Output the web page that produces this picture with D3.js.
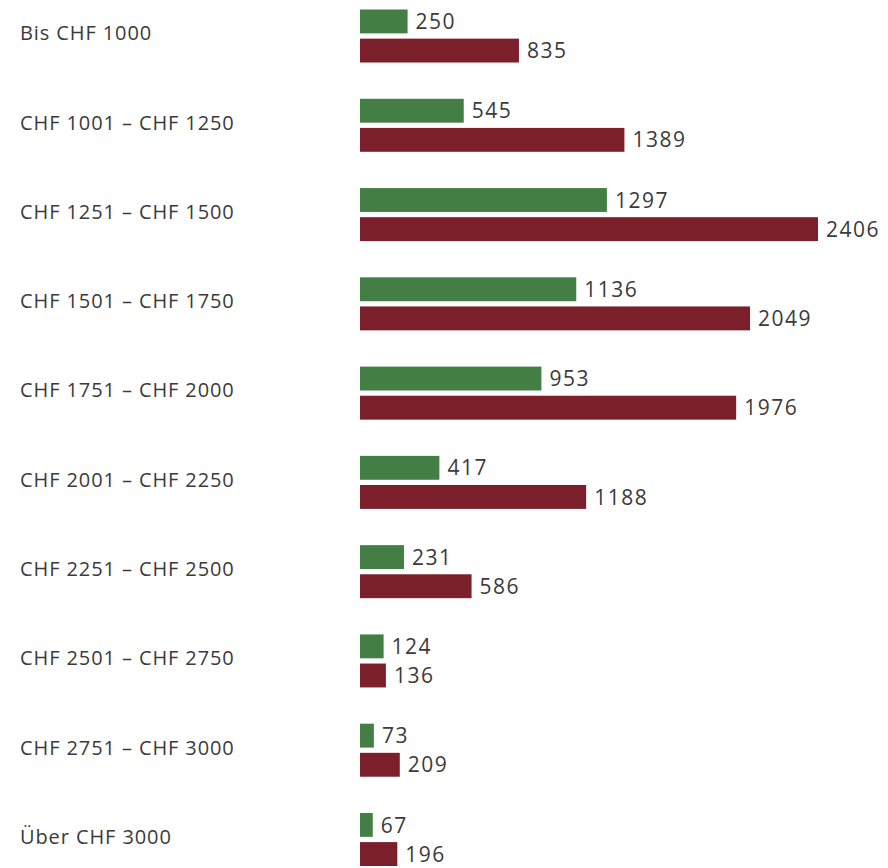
<!DOCTYPE html>
<html>
<head>
<meta charset="utf-8">
<script src="https://cdn.jsdelivr.net/npm/d3@7"></script>
<style>
  html, body { margin: 0; padding: 0; background: #fff; }
  #chart text { font-family: "Open Sans", "Noto Sans", sans-serif; fill: #3b3b3b; }
</style>
</head>
<body>
<div id="chart"></div>
<script>
const width = 888;
const height = 868;

const categories = [
    "Bis CHF 1000",
    "CHF 1001 – CHF 1250",
    "CHF 1251 – CHF 1500",
    "CHF 1501 – CHF 1750",
    "CHF 1751 – CHF 2000",
    "CHF 2001 – CHF 2250",
    "CHF 2251 – CHF 2500",
    "CHF 2501 – CHF 2750",
    "CHF 2751 – CHF 3000",
    "Über CHF 3000"
];
const seriesGreen = [250, 545, 1297, 1136, 953, 417, 231, 124, 73, 67];
const seriesRed = [835, 1389, 2406, 2049, 1976, 1188, 586, 136, 209, 196];
const seriesKeys = ["green", "red"];
const colors = { green: "#437f44", red: "#7b1f2b" };

const rows = categories.map((c, i) => ({
    category: c,
    values: [
        { key: "green", value: seriesGreen[i] },
        { key: "red", value: seriesRed[i] }
    ]
}));

const svg = d3.select("#chart")
    .append("svg")
    .attr("width", width)
    .attr("height", height);

svg.append("rect")
    .attr("width", width)
    .attr("height", height)
    .attr("fill", "#fff");

// one band per category, two bars inside
const y = d3.scaleBand()
    .domain(categories)
    .range([9.5, 866])
    .paddingInner(0.406)
    .paddingOuter(0);

const yInner = d3.scaleBand()
    .domain(seriesKeys)
    .range([0, y.bandwidth()])
    .paddingInner(0.18);

const x = d3.scaleLinear()
    .domain([0, 2406])
    .range([360, 818]);

const group = svg.selectAll("g.row")
    .data(rows)
    .join("g")
    .attr("class", "row")
    .attr("transform", d => `translate(0,${y(d.category)})`);

group.append("text")
    .attr("x", 20)
    .attr("y", y.bandwidth() / 2 - 1)
    .attr("dominant-baseline", "middle")
    .style("font-size", "20px")
    .style("letter-spacing", "0.9px")
    .text(d => d.category);

group.selectAll("rect")
    .data(d => d.values)
    .join("rect")
    .attr("x", x(0))
    .attr("y", d => yInner(d.key))
    .attr("width", d => x(d.value) - x(0))
    .attr("height", yInner.bandwidth())
    .attr("fill", d => colors[d.key]);

group.selectAll("text.value")
    .data(d => d.values)
    .join("text")
    .attr("class", "value")
    .attr("x", d => x(d.value) + 8)
    .attr("y", d => yInner(d.key) + yInner.bandwidth() / 2 + 2)
    .attr("dominant-baseline", "middle")
    .style("font-size", "21px")
    .style("letter-spacing", "1.5px")
    .text(d => d.value);
</script>
</body>
</html>
